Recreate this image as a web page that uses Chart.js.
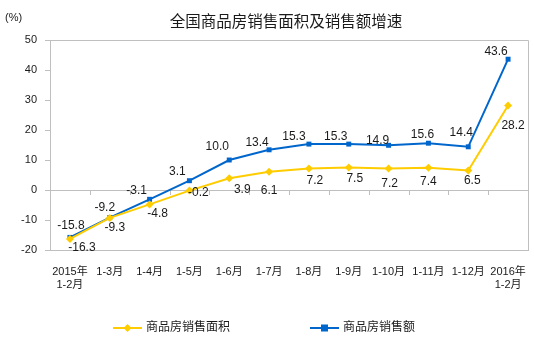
<!DOCTYPE html>
<html>
<head>
<meta charset="utf-8">
<script src="https://cdn.jsdelivr.net/npm/chart.js@4/dist/chart.umd.min.js"></script>
<style>
  html, body { margin: 0; padding: 0; background: #fff; }
  canvas { display: block; }
</style>
</head>
<body>
<canvas id="chart" width="534" height="341"></canvas>
<script>
const periods = [
  ['2015年', '1-2月'], '1-3月', '1-4月', '1-5月', '1-6月', '1-7月',
  '1-8月', '1-9月', '1-10月', '1-11月', '1-12月', ['2016年', '1-2月']
];
const areaGrowth = [-16.3, -9.3, -4.8, -0.2, 3.9, 6.1, 7.2, 7.5, 7.2, 7.4, 6.5, 28.2];
const salesGrowth = [-15.8, -9.2, -3.1, 3.1, 10.0, 13.4, 15.3, 15.3, 14.9, 15.6, 14.4, 43.6];

// where each value label sits relative to its point [dx, dy]
const areaLabelShift = [[12, 9], [5, 10], [8, 9], [9, 2], [13, 11], [0, 19], [6, 12], [6, 11], [1, 15], [0, 14], [4, 10], [5, 20]];
const salesLabelShift = [[1, -12], [-5, -10], [-13, -9], [-12, -9], [-12, -13], [-12, -7], [-15, -7], [-13, -7], [-11, -5], [-6, -9], [-7, -14], [-12, -8]];

const YELLOW = '#FFCC00';
const BLUE = '#0066CC';
const GRAY = '#BFBFBF';
const TEXT = '#1a1a1a';
const FONT = '"Liberation Sans", "Noto Sans CJK SC", sans-serif';

const decorations = {
  id: 'decorations',
  beforeDatasetsDraw(chart) {
    const { ctx, chartArea: a, scales } = chart;
    const y0 = scales.y.getPixelForValue(0);
    const n = periods.length;
    ctx.save();
    ctx.strokeStyle = GRAY;
    ctx.lineWidth = 1;
    // frame top and right
    ctx.beginPath();
    ctx.moveTo(a.left, a.top + 0.5);
    ctx.lineTo(a.right + 0.5, a.top + 0.5);
    ctx.lineTo(a.right + 0.5, a.bottom);
    ctx.stroke();
    // zero line with category ticks
    ctx.beginPath();
    ctx.moveTo(a.left, Math.round(y0) + 0.5);
    ctx.lineTo(a.right, Math.round(y0) + 0.5);
    for (let i = 1; i < n; i++) {
      const x = Math.round(a.left + i * (a.right - a.left) / n) + 0.5;
      ctx.moveTo(x, Math.round(y0));
      ctx.lineTo(x, Math.round(y0) + 5);
    }
    ctx.stroke();
    ctx.restore();
  },
  afterDatasetsDraw(chart) {
    const { ctx } = chart;
    ctx.save();
    ctx.font = '12px ' + FONT;
    ctx.fillStyle = TEXT;
    ctx.textAlign = 'center';
    ctx.textBaseline = 'middle';
    const shifts = [areaLabelShift, salesLabelShift];
    chart.data.datasets.forEach((ds, di) => {
      chart.getDatasetMeta(di).data.forEach((pt, i) => {
        const [dx, dy] = shifts[di][i];
        ctx.fillText(ds.data[i].toFixed(1), pt.x + dx, pt.y + dy);
      });
    });

    // title and unit
    const a = chart.chartArea;
    ctx.font = '15.5px ' + FONT;
    ctx.fillText('全国商品房销售面积及销售额增速', (a.left + a.right) / 2 - 3, 23);
    ctx.font = '11px ' + FONT;
    ctx.textAlign = 'left';
    ctx.fillText('(%)', 5, 18);

    // legend
    const ly = 328;
    const items = [
      { x: 113, color: YELLOW, label: '商品房销售面积', marker: 'diamond' },
      { x: 310, color: BLUE, label: '商品房销售额', marker: 'square' }
    ];
    items.forEach(it => {
      ctx.strokeStyle = it.color;
      ctx.fillStyle = it.color;
      ctx.lineWidth = 2;
      ctx.beginPath();
      ctx.moveTo(it.x, ly);
      ctx.lineTo(it.x + 29, ly);
      ctx.stroke();
      const cx = it.x + 14.5;
      ctx.beginPath();
      if (it.marker === 'diamond') {
        ctx.moveTo(cx, ly - 4); ctx.lineTo(cx + 4, ly); ctx.lineTo(cx, ly + 4); ctx.lineTo(cx - 4, ly);
      } else {
        ctx.rect(cx - 3.5, ly - 3.5, 7, 7);
      }
      ctx.fill();
      ctx.fillStyle = TEXT;
      ctx.font = '12px ' + FONT;
      ctx.textAlign = 'left';
      ctx.fillText(it.label, it.x + 33, ly);
    });
    ctx.restore();
  }
};

new Chart(document.getElementById('chart'), {
  type: 'line',
  data: {
    labels: periods,
    datasets: [
      {
        label: '商品房销售面积',
        data: areaGrowth,
        borderColor: YELLOW,
        backgroundColor: YELLOW,
        borderWidth: 2,
        pointStyle: 'rectRot',
        pointRadius: 4,
        pointBorderWidth: 0,
        tension: 0
      },
      {
        label: '商品房销售额',
        data: salesGrowth,
        borderColor: BLUE,
        backgroundColor: BLUE,
        borderWidth: 2,
        pointStyle: 'rect',
        pointRadius: 3.5,
        pointBorderWidth: 0,
        tension: 0
      }
    ]
  },
  options: {
    responsive: false,
    animation: false,
    devicePixelRatio: 1,
    layout: { padding: { top: 40, right: 6, left: 0, bottom: 0 } },
    plugins: {
      legend: { display: false },
      title: { display: false },
      tooltip: { enabled: false }
    },
    scales: {
      x: {
        offset: true,
        grid: { display: false },
        border: { display: true, color: GRAY },
        ticks: { color: TEXT, font: { size: 11, family: FONT }, padding: 7, maxRotation: 0, autoSkip: false },
        afterFit(scale) { scale.height = 91; }
      },
      y: {
        min: -20,
        max: 50,
        ticks: { stepSize: 10, color: TEXT, font: { size: 11, family: FONT }, padding: 8 },
        grid: { drawOnChartArea: false, drawTicks: true, tickLength: 5, color: GRAY },
        border: { display: true, color: GRAY },
        afterFit(scale) { scale.width = 50; }
      }
    }
  },
  plugins: [decorations]
});
</script>
</body>
</html>
